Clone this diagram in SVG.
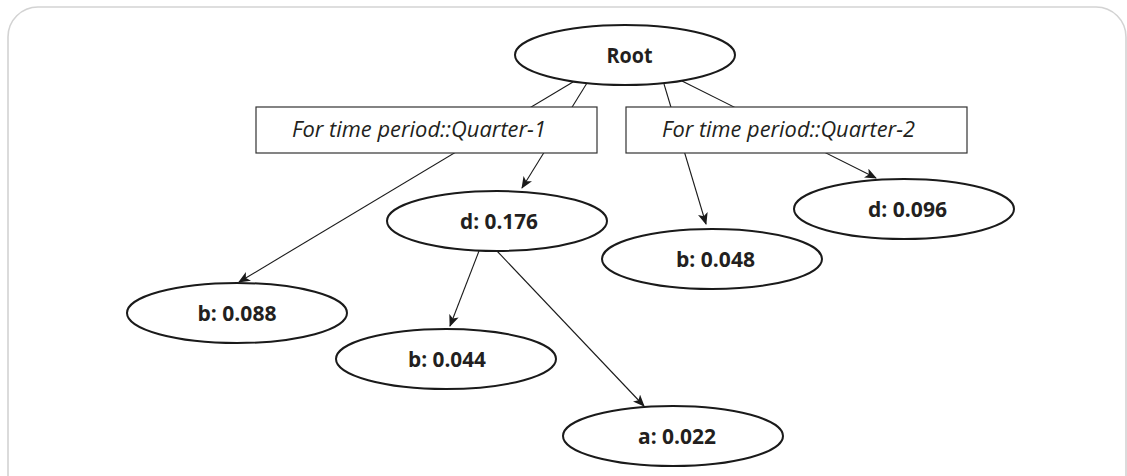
<svg xmlns="http://www.w3.org/2000/svg" width="1127" height="476" viewBox="0 0 1127 476">
<style>
.frame{fill:#fff;stroke:#d3d3d3;stroke-width:1.6}
.ell{fill:#fff;stroke:#1a1a1a;stroke-width:2}
.box{fill:#fff;stroke:#333;stroke-width:1.2}
.edge{stroke:#1a1a1a;stroke-width:1.1;fill:none}
.lbl{font-family:"Open Sans","Noto Sans",sans-serif;font-weight:bold;font-size:21px;fill:#231f20;text-anchor:middle}
.blbl{font-family:"Open Sans","Noto Sans",sans-serif;font-style:italic;font-size:21px;fill:#231f20;text-anchor:middle}
</style>
<defs>
<marker id="arr" markerWidth="12" markerHeight="10" refX="11" refY="5" orient="auto" markerUnits="userSpaceOnUse">
<path d="M0,0 L12,5 L0,10 L3,5 z" fill="#1a1a1a"/>
</marker>
</defs>
<rect class="frame" x="8" y="7" width="1118" height="520" rx="30"/>
<g id="connectors">
<line class="edge" x1="573" y1="82" x2="239" y2="282" marker-end="url(#arr)"/>
<line class="edge" x1="587" y1="83" x2="522" y2="188" marker-end="url(#arr)"/>
<line class="edge" x1="664" y1="84" x2="706" y2="224" marker-end="url(#arr)"/>
<line class="edge" x1="682" y1="81" x2="876" y2="178" marker-end="url(#arr)"/>
<line class="edge" x1="479" y1="251" x2="450" y2="326" marker-end="url(#arr)"/>
<line class="edge" x1="497" y1="251" x2="644" y2="406" marker-end="url(#arr)"/>
</g>
<g id="root"><ellipse class="ell" cx="625" cy="55" rx="110" ry="30"/><text class="lbl" x="629.5" y="62.5" textLength="46" lengthAdjust="spacingAndGlyphs">Root</text></g>
<g id="q1"><rect class="box" x="256" y="107" width="341" height="46"/><text class="blbl" x="419" y="137" textLength="254" lengthAdjust="spacingAndGlyphs">For time period::Quarter-1</text></g>
<g id="q2"><rect class="box" x="626" y="107" width="341" height="46"/><text class="blbl" x="788.5" y="137" textLength="253" lengthAdjust="spacingAndGlyphs">For time period::Quarter-2</text></g>
<g id="d176"><ellipse class="ell" cx="497" cy="221" rx="110" ry="30"/><text class="lbl" x="499" y="228.5" textLength="78" lengthAdjust="spacingAndGlyphs">d: 0.176</text></g>
<g id="b088"><ellipse class="ell" cx="237" cy="313" rx="110" ry="30"/><text class="lbl" x="237" y="320.5" textLength="79" lengthAdjust="spacingAndGlyphs">b: 0.088</text></g>
<g id="b044"><ellipse class="ell" cx="446" cy="359" rx="110" ry="30"/><text class="lbl" x="447" y="366.5" textLength="78" lengthAdjust="spacingAndGlyphs">b: 0.044</text></g>
<g id="a022"><ellipse class="ell" cx="673" cy="436" rx="110" ry="30"/><text class="lbl" x="677" y="443.5" textLength="78" lengthAdjust="spacingAndGlyphs">a: 0.022</text></g>
<g id="b048"><ellipse class="ell" cx="712" cy="259" rx="110" ry="30"/><text class="lbl" x="715.5" y="266.5" textLength="79" lengthAdjust="spacingAndGlyphs">b: 0.048</text></g>
<g id="d096"><ellipse class="ell" cx="904" cy="209" rx="110" ry="30"/><text class="lbl" x="907.5" y="216.5" textLength="79" lengthAdjust="spacingAndGlyphs">d: 0.096</text></g>
</svg>
